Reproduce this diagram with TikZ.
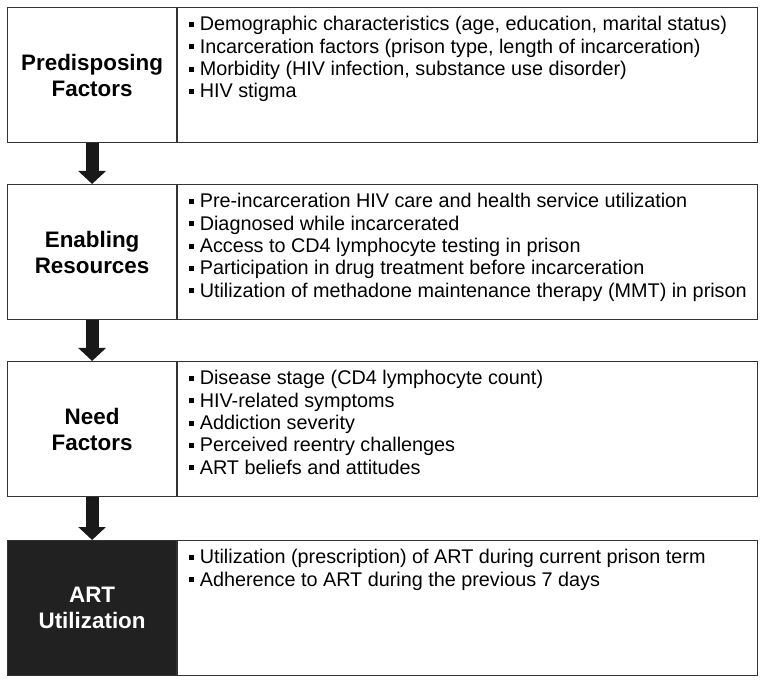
\documentclass[tikz,border=0pt]{standalone}
\usepackage{fontspec}
\setmainfont{Liberation Sans}
\usetikzlibrary{arrows.meta,positioning}

\newcommand{\blt}{\raisebox{0.2em}{\rule{5pt}{5pt}}\hspace{6pt}}

\begin{document}
\begin{tikzpicture}[
    x = 1pt,
    y = -1pt,
    every node/.style = {
      line width = 1.2pt,
      draw = black!80,
      inner sep = 0pt
    },
    lbox/.style = {
      rectangle,
      minimum width = 169pt,
      minimum height = 135pt,
      align = center,
      font = \fontsize{22.4}{26}\selectfont\bfseries,
      anchor = north west
    },
    rbox/.style = {
      rectangle,
      minimum width = 580pt,
      minimum height = 135pt,
      anchor = north west
    },
    items/.style = {
      draw = none,
      align = left,
      anchor = north west,
      font = \fontsize{19.8}{22.3}\selectfont
    },
    flow/.style = {
      line width = 13pt,
      black!90,
      -{Triangle[width = 27pt, length = 13pt]}
    }
  ]
  \useasboundingbox (0,0) rectangle (763,684);

  \node[lbox] (pre) at (7,7) {Predisposing\\Factors};
  \node[lbox] (ena) at (7,184) {Enabling\\Resources};
  \node[lbox] (need) at (7,361) {Need\\Factors};
  \node[lbox, fill = black!87, text = white] (art) at (7,540) {ART\\Utilization};

  \node[rbox] (preR) at (pre.north east) {};
  \node[rbox] (enaR) at (ena.north east) {};
  \node[rbox] (needR) at (need.north east) {};
  \node[rbox] (artR) at (art.north east) {};

  \node[items, below right = 9pt and 11pt of preR.north west] (preT) {%
    \blt Demographic characteristics (age, education, marital status)\\
    \blt Incarceration factors (prison type, length of incarceration)\\
    \blt Morbidity (HIV infection, substance use disorder)\\
    \blt HIV stigma};
  \node[items, below right = 9pt and 11pt of enaR.north west] (enaT) {%
    \blt Pre-incarceration HIV care and health service utilization\\
    \blt Diagnosed while incarcerated\\
    \blt Access to CD4 lymphocyte testing in prison\\
    \blt Participation in drug treatment before incarceration\\
    \blt Utilization of methadone maintenance therapy (MMT) in prison};
  \node[items, below right = 9pt and 11pt of needR.north west] (needT) {%
    \blt Disease stage (CD4 lymphocyte count)\\
    \blt HIV-related symptoms\\
    \blt Addiction severity\\
    \blt Perceived reentry challenges\\
    \blt ART beliefs and attitudes};
  \node[items, below right = 9pt and 11pt of artR.north west] (artT) {%
    \blt Utilization (prescription) of ART during current prison term\\
    \blt Adherence to ART during the previous 7 days};

  \draw[flow] (pre.south) -- (ena.north);
  \draw[flow] (ena.south) -- (need.north);
  \draw[flow] (need.south) -- (art.north);

\end{tikzpicture}
\end{document}
